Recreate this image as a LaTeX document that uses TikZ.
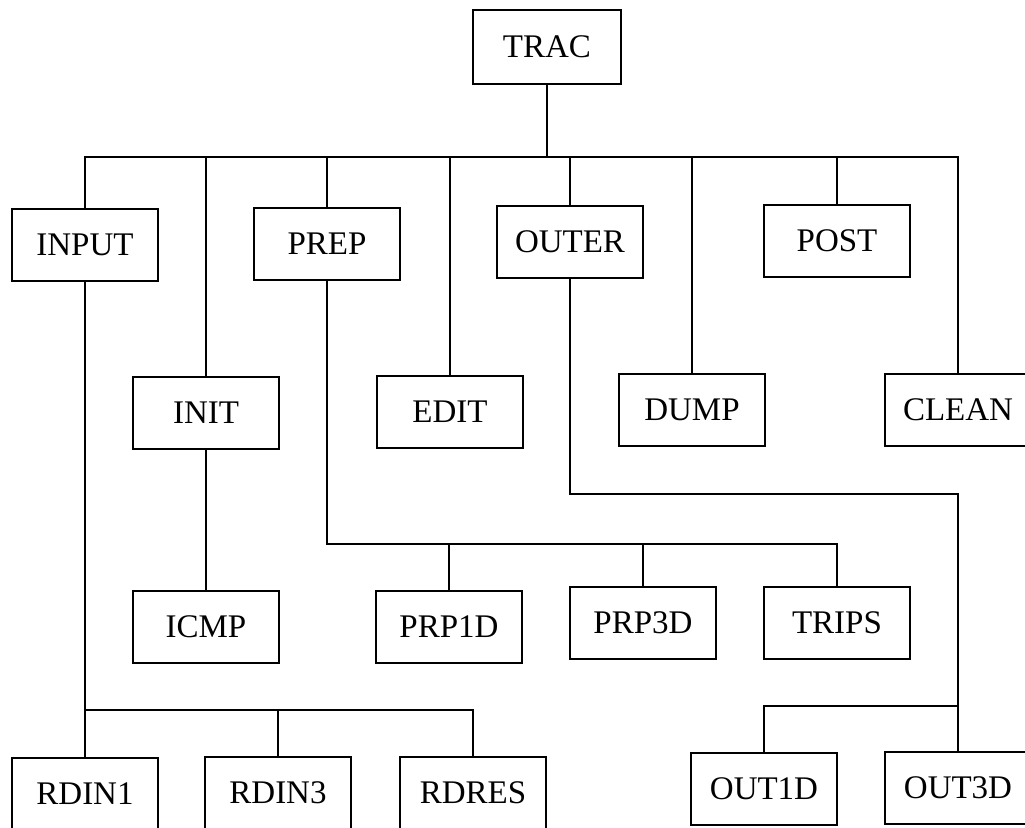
\documentclass[tikz,border=0pt]{standalone}
\usepackage{fontspec}
\setmainfont{Liberation Serif}
\usepackage{tikz}
\usetikzlibrary{positioning, calc}
\tikzset{
    box/.style={draw, rectangle, line width=1.2pt, minimum width=73pt, minimum height=36pt, inner sep=0pt, font=\fontsize{16.5}{19}\selectfont},
    wire/.style={line width=1.2pt},
}
\begin{document}
\begin{tikzpicture}[x=0.5pt, y=-0.5pt]
    \clip (0,0) rectangle (1025,828);

    \node[box, minimum width=74pt, minimum height=37pt] (trac) at (547,47) {TRAC};

    \node[box] (input) at (85,245) {INPUT};
    \node[box] (prep) at (327,244) {PREP};
    \node[box] (outer) at (570,242) {OUTER};
    \node[box] (post) at (837,241) {POST};

    \node[box] (init) at (206,413) {INIT};
    \node[box] (edit) at (450,412) {EDIT};
    \node[box] (dump) at (692,410) {DUMP};
    \node[box] (clean) at (958,410) {CLEAN};

    \node[box] (icmp) at (206,627) {ICMP};
    \node[box] (prp1d) at (449,627) {PRP1D};
    \node[box] (prp3d) at (643,623) {PRP3D};
    \node[box] (trips) at (837,623) {TRIPS};

    \node[box] (rdin1) at (85,794) {RDIN1};
    \node[box] (rdin3) at (278,793) {RDIN3};
    \node[box] (rdres) at (473,793) {RDRES};
    \node[box] (out1d) at (764,789) {OUT1D};
    \node[box] (out3d) at (958,788) {OUT3D};

    \coordinate (topbus) at (0,157);
    \coordinate (prepbus) at (0,544);
    \coordinate (outerbus) at (0,494);
    \coordinate (outbus) at (0,706);
    \coordinate (inbus) at (0,710);

    \draw[wire] (trac.south) -- (trac.south |- topbus);
    \draw[wire] (input.north) |- (clean.north |- topbus) -- (clean.north);
    \foreach \n in {init, prep, edit, outer, dump, post}
        \draw[wire] (\n.north) -- (\n.north |- topbus);

    \draw[wire] (init.south) -- (icmp.north);

    \draw[wire] (prep.south) |- (trips.north |- prepbus) -- (trips.north);
    \foreach \n in {prp1d, prp3d}
        \draw[wire] (\n.north) -- (\n.north |- prepbus);

    \draw[wire] (outer.south) |- (out3d.north |- outerbus) -- (out3d.north);
    \draw[wire] (out1d.north) |- (out3d.north |- outbus);

    \draw[wire] (input.south) -- (rdin1.north);
    \draw[wire] (rdin1.north |- inbus) -| (rdres.north);
    \draw[wire] (rdin3.north) -- (rdin3.north |- inbus);

  \end{tikzpicture}
\end{document}
